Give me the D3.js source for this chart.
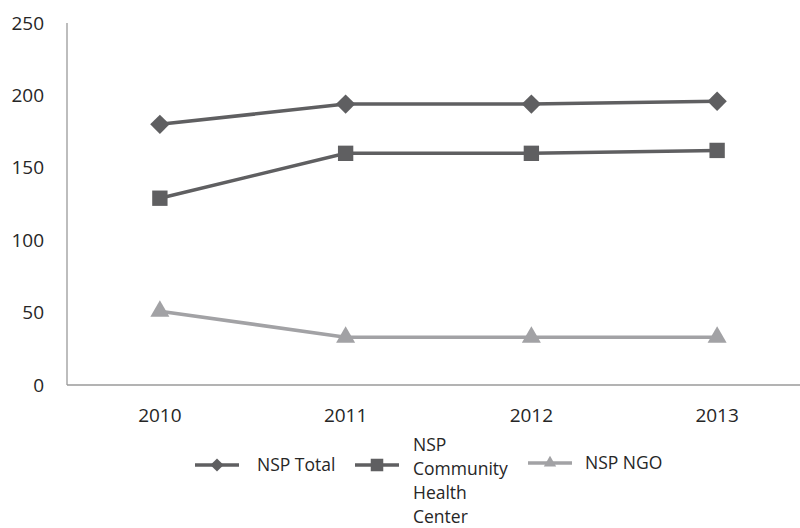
<!DOCTYPE html>
<html>
<head>
<meta charset="utf-8">
<script src="https://cdn.jsdelivr.net/npm/d3@7"></script>
<style>
  html, body { margin: 0; padding: 0; background: #fff; }
  svg { display: block; font-family: "Open Sans", "Noto Sans", sans-serif; }
</style>
</head>
<body>
<svg id="chart" width="800" height="528"></svg>
<script>
// Data
const years = ["2010", "2011", "2012", "2013"];
const nspTotal = [180, 194, 194, 196];
const nspCommunity = [129, 160, 160, 162];
const nspNGO = [51, 33, 33, 33];
const yTicks = [0, 50, 100, 150, 200, 250];
const seriesNames = ["NSP Total", "NSP Community Health Center", "NSP NGO"];

const series = [
  { name: seriesNames[0], values: nspTotal, color: "#5f5f61", symbol: d3.symbolDiamond2, size: 240, lsize: 110 },
  { name: seriesNames[1], values: nspCommunity, color: "#5f5f61", symbol: d3.symbolSquare2, size: 300, lsize: 200 },
  { name: seriesNames[2], values: nspNGO, color: "#a2a2a5", symbol: d3.symbolTriangle2, size: 260, lsize: 110 }
];

const svg = d3.select("#chart");

const x = d3.scaleBand().domain(years).range([67, 810]).padding(0);
const y = d3.scaleLinear().domain([0, 250]).range([385, 23]);
const cx = d => x(d) + x.bandwidth() / 2;

// Axes
svg.append("line")
  .attr("x1", 67).attr("x2", 67)
  .attr("y1", y(250)).attr("y2", y(0))
  .attr("stroke", "#9a9a9a").attr("stroke-width", 1.3);
svg.append("line")
  .attr("x1", 67).attr("x2", 800)
  .attr("y1", y(0)).attr("y2", y(0))
  .attr("stroke", "#9a9a9a").attr("stroke-width", 1.3);

svg.append("g").selectAll("text")
  .data(yTicks).join("text")
  .attr("x", 44).attr("y", d => y(d))
  .attr("dy", "0.35em")
  .attr("text-anchor", "end")
  .attr("font-size", 19)
  .attr("fill", "#262626")
  .text(d => d);

svg.append("g").selectAll("text")
  .data(years).join("text")
  .attr("x", d => cx(d)).attr("y", 415)
  .attr("dy", "0.35em")
  .attr("text-anchor", "middle")
  .attr("font-size", 19)
  .attr("fill", "#262626")
  .text(d => d);

// Lines and markers
const line = d3.line().x((d, i) => cx(years[i])).y(d => y(d));

series.forEach(s => {
  svg.append("path")
    .attr("d", line(s.values))
    .attr("fill", "none")
    .attr("stroke", s.color)
    .attr("stroke-width", 3.5);
  svg.append("g").selectAll("path")
    .data(s.values).join("path")
    .attr("transform", (d, i) => `translate(${cx(years[i])},${y(d)})`)
    .attr("d", d3.symbol().type(s.symbol).size(s.size)())
    .attr("fill", s.color);
});

// Legend
const legend = [
  { s: series[0], lx: 195, ty: 465, tx: 257, lines: ["NSP Total"] },
  { s: series[1], lx: 355, ty: 465, tx: 413, lines: ["NSP", "Community", "Health", "Center"] },
  { s: series[2], lx: 528, ty: 463, tx: 585, lines: ["NSP NGO"] }
];
legend.forEach(l => {
  const g = svg.append("g");
  g.append("line")
    .attr("x1", l.lx).attr("x2", l.lx + 44)
    .attr("y1", l.ty).attr("y2", l.ty)
    .attr("stroke", l.s.color).attr("stroke-width", 3.5);
  g.append("path")
    .attr("transform", `translate(${l.lx + 22},${l.ty})`)
    .attr("d", d3.symbol().type(l.s.symbol).size(l.s.lsize)())
    .attr("fill", l.s.color);
  const startY = l.lines.length > 1 ? 445 : l.ty;
  l.lines.forEach((t, i) => {
    g.append("text")
      .attr("x", l.tx).attr("y", startY + i * 23.8)
      .attr("dy", "0.35em")
      .attr("font-size", 17.5)
      .attr("fill", "#262626")
      .text(t);
  });
});
</script>
</body>
</html>
